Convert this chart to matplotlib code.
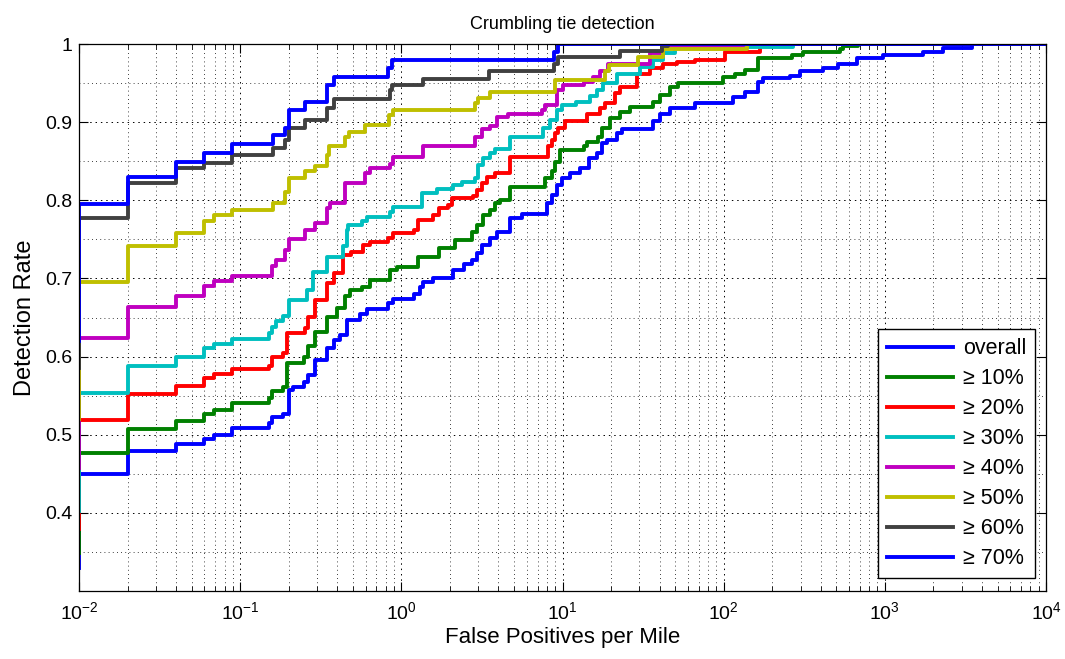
import matplotlib
matplotlib.use('Agg')
from matplotlib import pyplot as plt
from matplotlib.ticker import FixedLocator, MultipleLocator, LogLocator, NullFormatter

plt.rcParams['font.family'] = ['Liberation Sans', 'DejaVu Sans']
plt.rcParams['mathtext.fontset'] = 'custom'
plt.rcParams['mathtext.rm'] = 'Liberation Sans'
plt.rcParams['mathtext.it'] = 'Liberation Sans:italic'
plt.rcParams['mathtext.bf'] = 'Liberation Sans:bold'

# 曲线数据 (false positives per mile, detection rate), 阶梯在 x 处跳到 y
labels = ['overall', '≥ 10%', '≥ 20%', '≥ 30%', '≥ 40%', '≥ 50%', '≥ 60%', '≥ 70%']
colors = ['#0000ff', '#008000', '#ff0000', '#00bfbf', '#bf00bf', '#bfbf00', '#404040', '#0000ff']

overall_fp = [0.01, 0.01, 0.02, 0.04, 0.06, 0.069, 0.089, 0.15, 0.157, 0.185, 0.2, 0.214, 0.25, 0.265,
              0.291, 0.344, 0.38, 0.416, 0.458, 0.553, 0.609, 0.83, 0.892, 1.19, 1.3, 1.37, 1.58, 2.1,
              2.43, 2.73, 2.93, 3.15, 3.55, 3.9, 4.72, 5.58, 7.98, 8.57, 9.2, 9.88, 11.1, 12.8, 14.5,
              16.3, 17.5, 18.8, 21.7, 23.3, 36.6, 40.3, 46.5, 66.4, 115, 136, 164, 176, 258, 298,
              415, 514, 668, 980, 1730, 2310, 3460, 1e4]
overall_dr = [0.329, 0.450, 0.479, 0.488, 0.495, 0.500, 0.508, 0.515, 0.523, 0.527, 0.557, 0.561, 0.567,
              0.576, 0.595, 0.611, 0.621, 0.628, 0.647, 0.655, 0.661, 0.668, 0.674, 0.680, 0.689, 0.696,
              0.700, 0.711, 0.719, 0.724, 0.732, 0.743, 0.752, 0.760, 0.777, 0.783, 0.796, 0.807, 0.820,
              0.828, 0.835, 0.841, 0.854, 0.860, 0.873, 0.877, 0.886, 0.891, 0.901, 0.910, 0.918, 0.924,
              0.932, 0.939, 0.952, 0.956, 0.959, 0.965, 0.969, 0.975, 0.982, 0.986, 0.990, 0.9945, 1.0,
              1.0]

p10_fp = [0.01, 0.01, 0.02, 0.04, 0.06, 0.069, 0.089, 0.15, 0.157, 0.185, 0.195, 0.25, 0.265, 0.291,
          0.344, 0.397, 0.447, 0.48, 0.567, 0.639, 0.851, 0.935, 1.27, 1.7, 2.15, 2.73, 2.93, 3.23, 3.55,
          3.81, 4.09, 4.72, 7.79, 8.57, 8.98, 9.64, 13.5, 14.1, 16.7, 17.5, 19.7, 22.7, 26.2, 36.6, 40.3,
          46.5, 52, 99.4, 117, 136, 164, 264, 312, 527, 553, 685, 1e4]
p10_dr = [0.348, 0.477, 0.507, 0.517, 0.527, 0.531, 0.541, 0.547, 0.556, 0.561, 0.592, 0.600, 0.613,
          0.632, 0.651, 0.662, 0.677, 0.685, 0.689, 0.698, 0.711, 0.715, 0.728, 0.739, 0.749, 0.760, 0.768,
          0.781, 0.788, 0.796, 0.800, 0.817, 0.828, 0.837, 0.849, 0.864, 0.869, 0.875, 0.881, 0.893, 0.905,
          0.913, 0.920, 0.926, 0.935, 0.945, 0.950, 0.958, 0.962, 0.967, 0.982, 0.986, 0.990, 0.993, 0.997,
          1.0, 1.0]

p20_fp = [0.01, 0.01, 0.02, 0.04, 0.06, 0.069, 0.089, 0.15, 0.157, 0.185, 0.195, 0.254, 0.265, 0.291,
          0.344, 0.38, 0.437, 0.485, 0.581, 0.639, 0.83, 0.892, 1.19, 1.27, 1.58, 1.7, 1.95, 2.05, 2.79,
          2.93, 3.15, 3.39, 3.81, 4.72, 8.17, 8.57, 8.98, 9.42, 10.4, 14.1, 17.1, 18.4, 21.2, 22.7, 28.8,
          35, 42.2, 51.1, 66.4, 102, 168, 1e4]
p20_dr = [0.379, 0.519, 0.552, 0.562, 0.573, 0.578, 0.584, 0.588, 0.599, 0.605, 0.630, 0.636, 0.651,
          0.672, 0.694, 0.707, 0.730, 0.734, 0.743, 0.747, 0.752, 0.758, 0.762, 0.775, 0.781, 0.790, 0.794,
          0.803, 0.805, 0.813, 0.822, 0.830, 0.835, 0.856, 0.869, 0.877, 0.886, 0.892, 0.901, 0.911, 0.918,
          0.924, 0.937, 0.945, 0.962, 0.969, 0.974, 0.977, 0.980, 0.990, 1.0, 1.0]

p30_fp = [0.01, 0.01, 0.02, 0.04, 0.06, 0.069, 0.089, 0.15, 0.157, 0.167, 0.185, 0.2, 0.259, 0.284,
          0.344, 0.437, 0.458, 0.469, 0.567, 0.609, 0.851, 0.892, 1.34, 1.66, 2.1, 2.37, 2.86, 3.0, 3.23,
          3.55, 3.81, 4.72, 7.6, 8.36, 9.2, 9.88, 12.2, 14.8, 16.3, 17.9, 21.7, 30.3, 36.6, 42.2, 50,
          270, 1e4]
p30_dr = [0.403, 0.553, 0.588, 0.600, 0.611, 0.616, 0.622, 0.630, 0.638, 0.646, 0.652, 0.672, 0.685,
          0.708, 0.728, 0.741, 0.762, 0.768, 0.773, 0.779, 0.785, 0.792, 0.809, 0.815, 0.820, 0.824, 0.828,
          0.845, 0.854, 0.860, 0.866, 0.881, 0.892, 0.903, 0.9155, 0.922, 0.926, 0.933, 0.941, 0.950,
          0.962, 0.971, 0.980, 0.988, 0.996, 1.0, 1.0]

p40_fp = [0.01, 0.01, 0.02, 0.04, 0.06, 0.069, 0.089, 0.157, 0.167, 0.19, 0.2, 0.252, 0.291, 0.344,
          0.361, 0.447, 0.595, 0.639, 0.851, 0.892, 1.37, 2.86, 3.15, 3.55, 3.9, 4.61, 7.43, 7.79, 9.2,
          10.1, 13.5, 15.5, 17.1, 19.2, 35, 42, 132, 1e4]
p40_dr = [0.458, 0.624, 0.664, 0.678, 0.690, 0.697, 0.703, 0.716, 0.724, 0.737, 0.750, 0.762, 0.771,
          0.790, 0.796, 0.822, 0.835, 0.841, 0.847, 0.856, 0.869, 0.881, 0.891, 0.895, 0.907, 0.910,
          0.9155, 0.922, 0.941, 0.9475, 0.952, 0.958, 0.965, 0.974, 0.988, 0.997, 1.0, 1.0]

p50_fp = [0.01, 0.01, 0.02, 0.04, 0.06, 0.069, 0.089, 0.159, 0.19, 0.2, 0.252, 0.291, 0.344, 0.357,
          0.447, 0.475, 0.595, 0.842, 0.892, 2.86, 3.0, 3.55, 8.98, 18.4, 19.5, 29.5, 42.2, 139, 1e4]
p50_dr = [0.520, 0.695, 0.741, 0.758, 0.773, 0.781, 0.788, 0.796, 0.811, 0.829, 0.837, 0.844, 0.858,
          0.869, 0.881, 0.888, 0.896, 0.909, 0.916, 0.924, 0.931, 0.939, 0.954, 0.965, 0.973, 0.983,
          0.994, 1.0, 1.0]

p60_fp = [0.01, 0.01, 0.02, 0.04, 0.06, 0.089, 0.159, 0.19, 0.2, 0.252, 0.348, 0.38, 0.85, 0.87, 1.37,
          3.51, 8.85, 9.42, 22.7, 41.3, 45, 1e4]
p60_dr = [0.585, 0.777, 0.822, 0.841, 0.848, 0.858, 0.867, 0.877, 0.893, 0.903, 0.918, 0.929, 0.941,
          0.947, 0.955, 0.965, 0.974, 0.983, 0.991, 0.997, 1.0, 1.0]

p70_fp = [0.01, 0.01, 0.02, 0.04, 0.06, 0.089, 0.159, 0.19, 0.2, 0.252, 0.348, 0.38, 0.83, 0.871, 8.85,
          9.42, 1e4]
p70_dr = [0.620, 0.795, 0.830, 0.849, 0.861, 0.872, 0.883, 0.893, 0.915, 0.926, 0.948, 0.958, 0.969,
          0.979, 0.990, 1.0, 1.0]

y_ticks = [0.4, 0.5, 0.6, 0.7, 0.8, 0.9, 1.0]
y_tick_labels = ['0.4', '0.5', '0.6', '0.7', '0.8', '0.9', '1']

curves = [(overall_fp, overall_dr), (p10_fp, p10_dr), (p20_fp, p20_dr), (p30_fp, p30_dr),
          (p40_fp, p40_dr), (p50_fp, p50_dr), (p60_fp, p60_dr), (p70_fp, p70_dr)]

fig = plt.figure(figsize = (10.65, 6.59), dpi = 100)
ax = fig.add_axes([0.0742, 0.1032, 0.908, 0.830])

# 按顺序绘制, 后画的覆盖前面的
for (fp, dr), color, label in zip(curves, colors, labels):
    ax.step(fp, dr, where = 'post', color = color, lw = 2.8, label = label)

ax.set_xscale('log')
ax.set_xlim(1e-2, 1e4)
ax.set_ylim(0.3, 1.0)
ax.xaxis.set_major_locator(LogLocator(base = 10, numticks = 10))
ax.xaxis.set_minor_locator(LogLocator(base = 10, subs = range(2, 10), numticks = 100))
ax.xaxis.set_minor_formatter(NullFormatter())
ax.yaxis.set_major_locator(FixedLocator(y_ticks))
ax.set_yticklabels(y_tick_labels)
ax.yaxis.set_minor_locator(MultipleLocator(0.05))
ax.yaxis.set_minor_formatter(NullFormatter())

ax.tick_params(which = 'both', direction = 'in', top = True, right = True, labelsize = 14, colors = 'black')
ax.tick_params(which = 'major', length = 6.5, width = 0.8)
ax.tick_params(axis = 'x', which = 'minor', length = 3.5, width = 0.6)
ax.tick_params(axis = 'y', which = 'minor', length = 0)
ax.tick_params(axis = 'y', pad = 5)
ax.tick_params(axis = 'x', pad = 7)

ax.grid(which = 'major', linestyle = (0, (1.5, 4)), color = 'black', lw = 0.7)
ax.grid(which = 'minor', linestyle = (0, (1, 4)), color = 'black', lw = 0.6)
ax.set_axisbelow(True)
for spine in ax.spines.values():
    spine.set_linewidth(0.9)

ax.set_title('Crumbling tie detection', fontsize = 13, pad = 11)
ax.set_xlabel('False Positives per Mile', fontsize = 16, labelpad = 3)
ax.set_ylabel('Detection Rate', fontsize = 17, labelpad = 6)

leg = ax.legend(loc = 'lower right', bbox_to_anchor = (0.9886, 0.0238), borderaxespad = 0,
                fancybox = False, edgecolor = 'black', framealpha = 1, fontsize = 15.5,
                handlelength = 3.1, handletextpad = 0.45, labelspacing = 0.42, borderpad = 0.4)
leg.get_frame().set_linewidth(1.0)

fig.savefig('out.png', dpi = 100)
